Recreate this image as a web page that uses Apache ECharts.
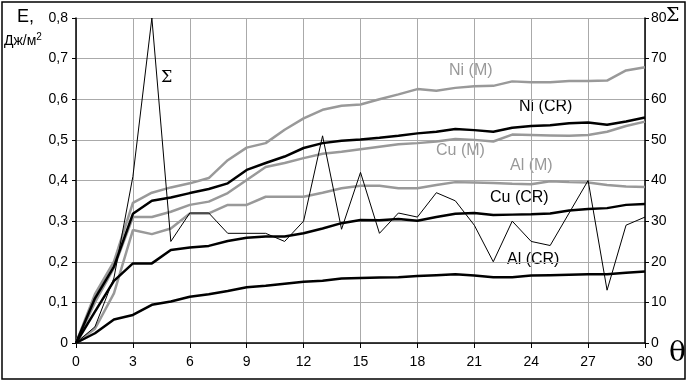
<!DOCTYPE html>
<html>
<head>
<meta charset="utf-8">
<script src="https://cdn.jsdelivr.net/npm/echarts@6/dist/echarts.min.js"></script>
<style>html,body{margin:0;padding:0;background:#fff;}#c{width:688px;height:381px;}</style>
</head>
<body>
<div id="c"></div>
<script>
// theta values (x)
const theta = [0,1,2,3,4,5,6,7,8,9,10,11,12,13,14,15,16,17,18,19,20,21,22,23,24,25,26,27,28,29,30];
// E, J/m2 (left axis)
const niM  = [0,0.12,0.20,0.345,0.37,0.383,0.393,0.406,0.45,0.481,0.492,0.525,0.553,0.574,0.584,0.587,0.60,0.612,0.625,0.621,0.628,0.632,0.633,0.644,0.642,0.642,0.645,0.645,0.646,0.671,0.679];
const niCR = [0,0.11,0.188,0.318,0.35,0.358,0.369,0.379,0.393,0.426,0.443,0.459,0.48,0.492,0.498,0.501,0.505,0.51,0.516,0.52,0.527,0.524,0.52,0.53,0.534,0.536,0.541,0.543,0.537,0.545,0.555];
const cuM  = [0,0.10,0.185,0.31,0.31,0.323,0.34,0.348,0.369,0.401,0.433,0.443,0.455,0.466,0.471,0.477,0.483,0.489,0.492,0.496,0.502,0.50,0.496,0.513,0.512,0.511,0.51,0.512,0.52,0.534,0.545];
const alM  = [0,0.035,0.122,0.278,0.268,0.282,0.319,0.319,0.34,0.34,0.36,0.36,0.36,0.37,0.381,0.387,0.387,0.381,0.381,0.389,0.396,0.395,0.394,0.392,0.391,0.398,0.396,0.395,0.389,0.385,0.384];
const cuCR = [0,0.077,0.153,0.196,0.196,0.229,0.235,0.239,0.251,0.259,0.262,0.262,0.27,0.282,0.295,0.303,0.302,0.305,0.301,0.31,0.318,0.32,0.315,0.316,0.317,0.319,0.326,0.33,0.332,0.34,0.342];
const alCR = [0,0.024,0.058,0.069,0.094,0.102,0.114,0.12,0.128,0.137,0.141,0.146,0.151,0.153,0.159,0.16,0.161,0.162,0.165,0.167,0.169,0.166,0.162,0.162,0.166,0.167,0.168,0.169,0.169,0.173,0.176];
// Sigma (right axis)
const sigma = [0,4,16,41,80,25,32,32,27,27,27,25,30,51,28,42,27,32,31,37,35,29,20,30,25,24,32,40,13,29,31];
// tick labels
const xTicks = [0,3,6,9,12,15,18,21,24,27,30];

const pair = arr => theta.map((t,i)=>[t,arr[i]]);
const GRAY = '#999999';
const FONT = 'Liberation Sans, Arial, sans-serif';

const chart = echarts.init(document.getElementById('c'), null, {renderer:'canvas'});
const lineS = (name, data, color, width, yIdx) => ({
  name, type:'line', data: pair(data), yAxisIndex: yIdx||0, symbol:'none',
  lineStyle:{color, width}, animation:false, z: yIdx ? 3 : 2
});
chart.setOption({
  animation:false,
  grid:{left:76, right:43, top:18, bottom:38, containLabel:false},
  xAxis:{type:'value', min:0, max:30, interval:3,
    axisLine:{lineStyle:{color:'#000', width:1.5}},
    axisTick:{show:true, length:5, lineStyle:{color:'#000'}},
    axisLabel:{color:'#000', fontSize:14, fontFamily:FONT, margin:12,
      formatter: v => xTicks.includes(v) ? String(v) : ''},
    splitLine:{show:true, lineStyle:{color:'#aaaaaa', width:1}}
  },
  yAxis:[
    {type:'value', min:0, max:0.8, interval:0.1, position:'left',
      axisLine:{show:true, lineStyle:{color:'#000', width:1.5}},
      axisTick:{show:true, length:4, lineStyle:{color:'#000'}},
      axisLabel:{color:'#000', fontSize:14, fontFamily:FONT, margin:8,
        formatter: v => v===0 ? '0' : v.toFixed(1).replace('.', ',')},
      splitLine:{show:true, lineStyle:{color:'#aaaaaa', width:1}}
    },
    {type:'value', min:0, max:80, interval:10, position:'right',
      axisLine:{show:true, lineStyle:{color:'#000', width:1.5}},
      axisTick:{show:true, length:4, lineStyle:{color:'#000'}},
      axisLabel:{color:'#000', fontSize:14, fontFamily:FONT, margin:6},
      splitLine:{show:false}
    }
  ],
  series:[
    lineS('Ni (M)', niM, GRAY, 2.5),
    lineS('Cu (M)', cuM, GRAY, 2.5),
    lineS('Al (M)', alM, GRAY, 2.5),
    lineS('Ni (CR)', niCR, '#000', 2.5),
    lineS('Cu (CR)', cuCR, '#000', 2.5),
    lineS('Al (CR)', alCR, '#000', 2.5),
    lineS('Σ', sigma, '#000', 1, 1)
  ],
  graphic:[
    {type:'rect', shape:{x:2, y:2, width:683, height:377}, style:{fill:'none', stroke:'#000', lineWidth:1.5}, silent:true},
    {type:'text', left:17, top:8, style:{text:'E,', font:'18px '+FONT, fill:'#000'}},
    {type:'text', left:4, top:32, style:{text:'Дж/м{s|2}', font:'14px '+FONT, fill:'#000',
      rich:{s:{fontSize:10, verticalAlign:'top', padding:[0,0,8,0], fontFamily:FONT}}}},
    {type:'text', left:666, top:7, style:{text:'Σ', font:'19px DejaVu Serif, serif', fill:'#000'}},
    {type:'text', left:669, top:340, style:{text:'θ', font:'28px DejaVu Serif, serif', fill:'#000'}},
    {type:'text', left:161, top:70, style:{text:'Σ', font:'16px DejaVu Serif, serif', fill:'#000'}},
    {type:'text', left:449, top:63, style:{text:'Ni (M)', font:'16px '+FONT, fill:GRAY}},
    {type:'text', left:519, top:99, style:{text:'Ni (CR)', font:'16px '+FONT, fill:'#000'}},
    {type:'text', left:436, top:143, style:{text:'Cu (M)', font:'16px '+FONT, fill:GRAY}},
    {type:'text', left:510, top:158, style:{text:'Al (M)', font:'16px '+FONT, fill:GRAY}},
    {type:'text', left:490, top:190, style:{text:'Cu (CR)', font:'16px '+FONT, fill:'#000'}},
    {type:'text', left:507, top:252, style:{text:'Al (CR)', font:'16px '+FONT, fill:'#000'}}
  ]
});
</script>
</body>
</html>
